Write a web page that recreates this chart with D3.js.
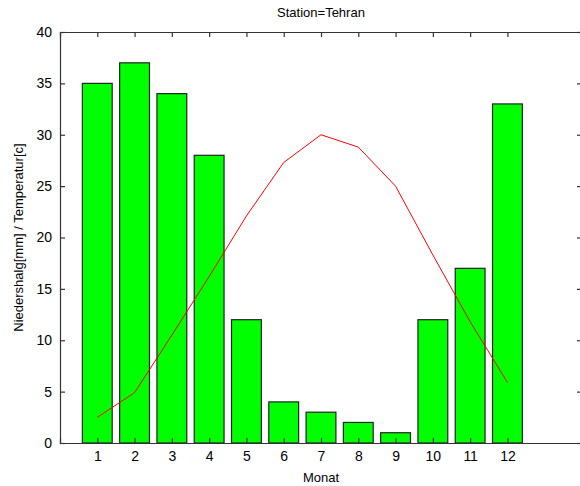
<!DOCTYPE html>
<html><head><meta charset="utf-8">
<script src="https://cdn.jsdelivr.net/npm/d3@7"></script>
<style>body{margin:0;background:#fff}svg{display:block}text{font-family:"Liberation Sans",Arial,sans-serif;fill:#000}</style>
</head><body><svg id="c" width="580" height="486"></svg>
<script>
const months = [1,2,3,4,5,6,7,8,9,10,11,12];
const precipitation = [35,37,34,28,12,4,3,2,1,12,17,33];
const temperature = [2.5,4.9,10.5,16.2,22.1,27.3,30.0,28.8,25.0,18.3,11.8,5.9];
const yTicks = [0,5,10,15,20,25,30,35,40];
const title = "Station=Tehran";
const xLabel = "Monat";
const yLabel = "Niedershalg[mm] / Temperatur[c]";

const svg = d3.select("#c");
const L = 60, R = 582, T = 32, B = 443;
const x = d3.scaleLinear().domain([0,14]).range([L,R]);
const y = d3.scaleLinear().domain([0,40]).range([B,T]);
const bw = 0.8;

svg.append("rect").attr("x",0).attr("y",0).attr("width",580).attr("height",486).attr("fill","#fff");

// bars
svg.append("g").selectAll("rect").data(months).join("rect")
  .attr("x", (d)=>x(d-bw/2)).attr("width", x(bw)-x(0))
  .attr("y", (d,i)=>y(precipitation[i])).attr("height",(d,i)=>y(0)-y(precipitation[i]))
  .attr("fill","#00ff00").attr("stroke","#222").attr("stroke-width",1.2);

// line
svg.append("path").datum(months)
  .attr("d", d3.line().x(d=>x(d)).y((d,i)=>y(temperature[i])))
  .attr("fill","none").attr("stroke","#ff0000").attr("stroke-width",1);

// axes
const axBottom = d3.axisBottom(x).tickValues(months).tickSize(-5).tickPadding(8).tickFormat(d3.format("d"));
const gb = svg.append("g").attr("transform",`translate(0,${B})`).call(axBottom);
const axTop = d3.axisTop(x).tickValues(months).tickSize(-5).tickFormat("");
const gt = svg.append("g").attr("transform",`translate(0,${T})`).call(axTop);
const axLeft = d3.axisLeft(y).tickValues(yTicks).tickSize(-5).tickPadding(8).tickFormat(d3.format("d"));
const gl = svg.append("g").attr("transform",`translate(${L},0)`).call(axLeft);
const axRight = d3.axisRight(y).tickValues(yTicks).tickSize(-5).tickFormat("");
const gr = svg.append("g").attr("transform",`translate(${R},0)`).call(axRight);
[gb,gt,gl,gr].forEach(g=>{
  g.select(".domain").attr("stroke","#333").attr("stroke-width",1.2);
  g.selectAll(".tick line").attr("stroke","#333").attr("stroke-width",1.2);
  g.selectAll("text").attr("font-size",14).attr("font-family","Liberation Sans, Arial, sans-serif").attr("fill","#000");
});

svg.append("text").attr("x",(L+R)/2).attr("y",17).attr("text-anchor","middle").attr("font-size",13).text(title);
svg.append("text").attr("x",(L+R)/2).attr("y",482).attr("text-anchor","middle").attr("font-size",13).text(xLabel);
svg.append("text").attr("transform",`translate(23,${(T+B)/2}) rotate(-90)`).attr("text-anchor","middle").attr("font-size",13).text(yLabel);
</script></body></html>
